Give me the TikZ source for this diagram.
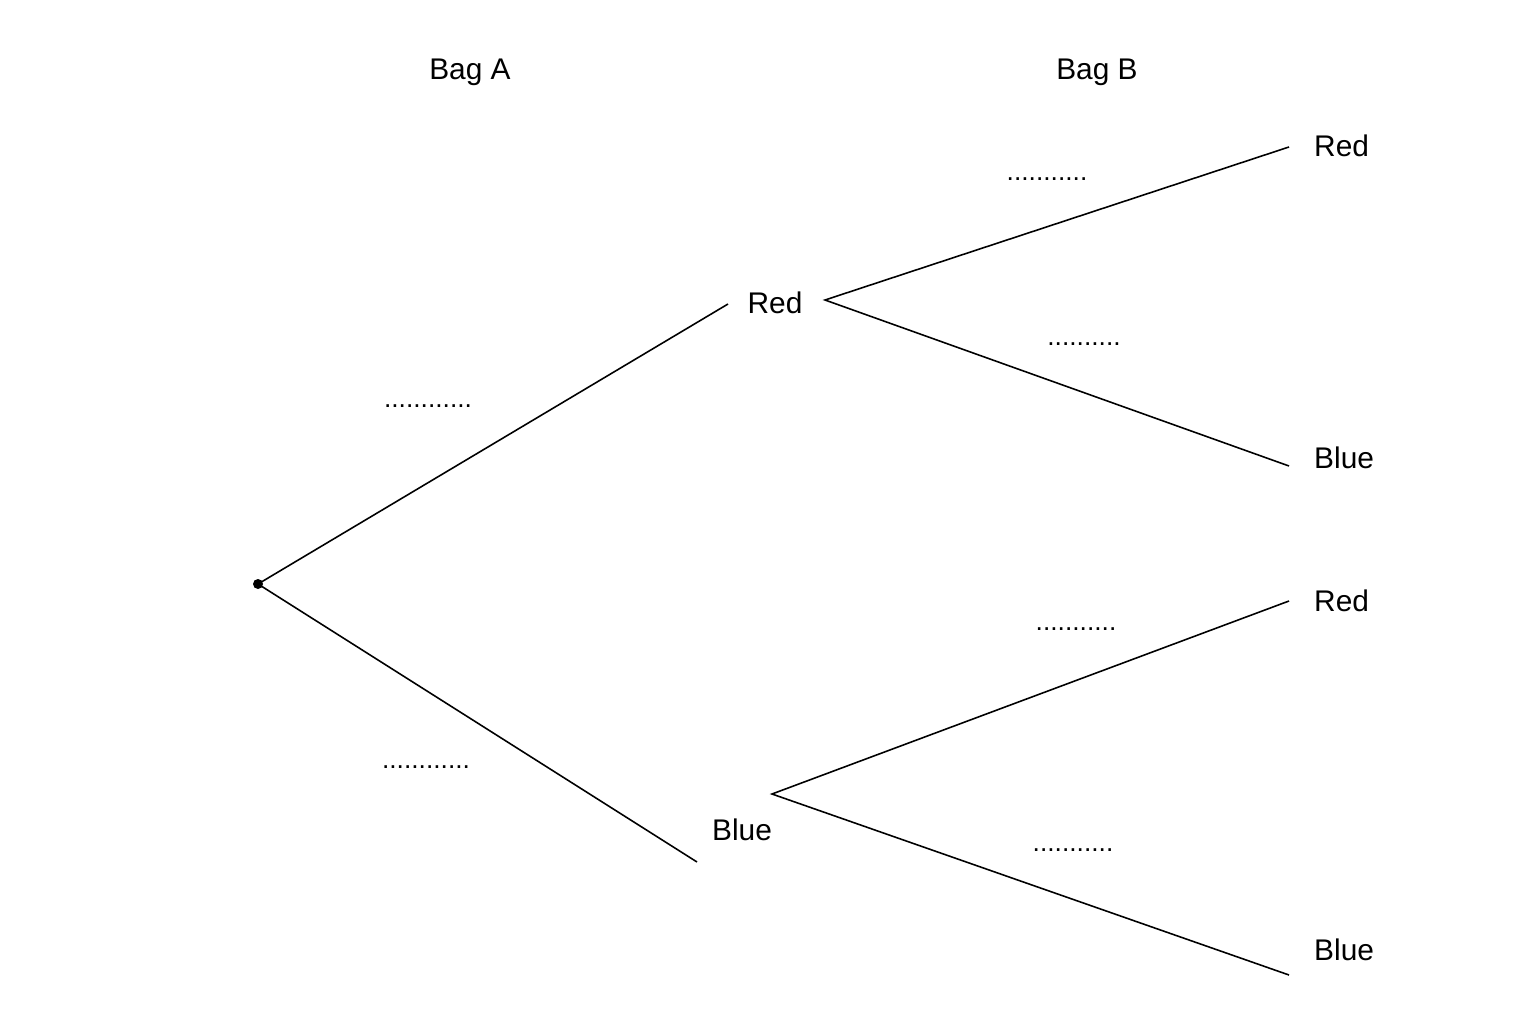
\documentclass[tikz,border=0pt]{standalone}
\usepackage{fontspec}
\setmainfont{Liberation Sans}
\begin{document}
\begin{tikzpicture}[x=0.02cm,y=-0.02cm,
  lbl/.style={font=\fontsize{17}{20}\selectfont},
  dots/.style={font=\fontsize{15}{18}\selectfont},
  br/.style={line width=0.9pt}]
\useasboundingbox (0,0) rectangle (1536,1024);
\fill[white] (0,0) rectangle (1536,1024);
\node[lbl] (bagA) at (470,72) {Bag A};
\node[lbl] (bagB) at (1097,72) {Bag B};
\fill (258,584) circle (5);
\coordinate (root) at (258,584);
\coordinate (rA) at (728,304);
\coordinate (bA) at (697,862);
\coordinate (rS) at (825,300);
\coordinate (bS) at (772,794);
\coordinate (rr) at (1289,147);
\coordinate (rb) at (1289,466);
\coordinate (br) at (1289,601);
\coordinate (bb) at (1289,975);
\draw[br] (root) -- (rA);
\draw[br] (root) -- (bA);
\draw[br] (rr) -- (rS) -- (rb);
\draw[br] (br) -- (bS) -- (bb);
\node[lbl] (redA) at (775,303) {Red};
\node[lbl] (blueA) at (742,830) {Blue};
\node[lbl,anchor=west] (redR) at (1308,146) {Red};
\node[lbl,anchor=west] (redB) at (1308,458) {Blue};
\node[lbl,anchor=west] (blueR) at (1308,601) {Red};
\node[lbl,anchor=west] (blueB) at (1308,950) {Blue};
\node[dots] (d1) at (428,406) {............};
\node[dots] (d2) at (426,767) {............};
\node[dots] (d3) at (1047,179) {...........};
\node[dots] (d4) at (1084,344) {..........};
\node[dots] (d5) at (1076,629) {...........};
\node[dots] (d6) at (1073,850) {...........};
\end{tikzpicture}
\end{document}
